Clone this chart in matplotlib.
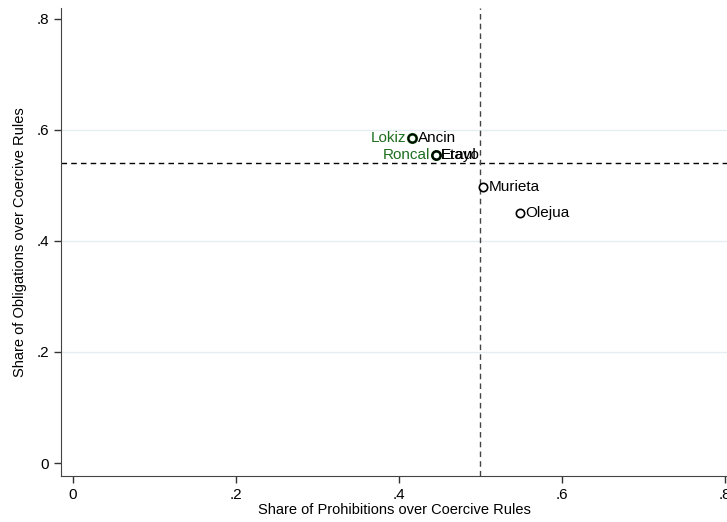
import numpy as np
import matplotlib.pyplot as plt

plt.rcParams['font.family'] = ['Liberation Sans', 'DejaVu Sans']

# municipalities: share of prohibitions (x), share of obligations (y)
names = ['Lokiz', 'Ancin', 'Roncal', 'Etayo', 'Eraul', 'Murieta', 'Olejua']
prohib = [0.416, 0.416, 0.445, 0.445, 0.445, 0.503, 0.548]
oblig = [0.585, 0.585, 0.555, 0.555, 0.555, 0.497, 0.450]
label_side = ['left', 'right', 'left', 'right', 'right', 'right', 'right']
group = ['green', 'black', 'green', 'black', 'black', 'black', 'black']

mean_x = 0.4995
mean_y = 0.5405

xticks = [0, 0.2, 0.4, 0.6, 0.8]
yticks = [0, 0.2, 0.4, 0.6, 0.8]
ticklabels = ['0', '.2', '.4', '.6', '.8']

colors = {'green': '#1e6e1e', 'black': 'black'}

fig = plt.figure(figsize=(7.27, 5.22), dpi=100)
ax = fig.add_axes([0.0839, 0.0881, 0.9161, 0.8969])

for y in [0.2, 0.4, 0.6]:
    ax.axhline(y, color='#e4eef2', lw=1.0, zorder=0)

ax.axhline(mean_y, color='black', lw=1.0, ls=(0, (4, 3)), zorder=1)
ax.axvline(mean_x, color='#444444', lw=1.0, ls=(0, (4, 3)), zorder=1)

for n, x, y, side, g in zip(names, prohib, oblig, label_side, group):
    c = colors[g]
    lw = 2.0 if g == 'green' else 1.2
    ax.plot(x, y, 'o', ms=6, mfc='none', mec=c, mew=lw, zorder=3 if g == 'black' else 2)
    if side == 'left':
        ax.annotate(n, (x, y), xytext=(-4, 0), textcoords='offset points',
                    ha='right', va='center', color=c, fontsize=11)
    else:
        ax.annotate(n, (x, y), xytext=(4, 0), textcoords='offset points',
                    ha='left', va='center', color=c, fontsize=11)

ax.set_xlim(-0.0147, 0.8025)
ax.set_ylim(-0.0234, 0.82)
ax.set_xticks(xticks)
ax.set_xticklabels(ticklabels)
ax.set_yticks(yticks)
ax.set_yticklabels(ticklabels)
ax.tick_params(direction='out', length=5, width=1, colors='#333333',
               labelcolor='black', labelsize=11)
for s in ['top', 'right']:
    ax.spines[s].set_visible(False)
for s in ['left', 'bottom']:
    ax.spines[s].set_color('#444444')

ax.set_xlabel('Share of Prohibitions over Coercive Rules', fontsize=10.5, labelpad=1)
ax.set_ylabel('Share of Obligations over Coercive Rules', fontsize=10.5, labelpad=7)

fig.savefig('out.png', dpi=100)
